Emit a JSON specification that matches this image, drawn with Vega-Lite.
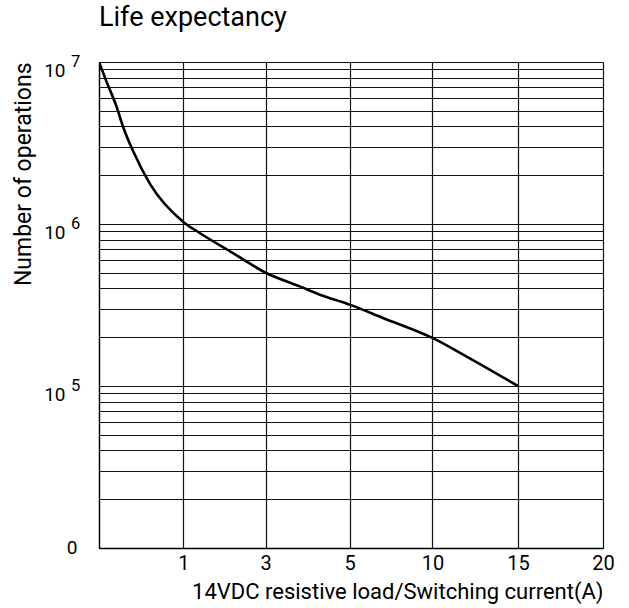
{
  "$schema": "https://vega.github.io/schema/vega-lite/v6.json",
  "width": 504,
  "height": 486,
  "autosize": {"type": "none"},
  "padding": {"left": 99, "top": 62, "right": 26, "bottom": 60},
  "background": "white",
  "title": {"text": "Life expectancy", "anchor": "start", "frame": "group", "offset": 1, "baseline": "alphabetic", "font": "Roboto", "fontSize": 27, "fontWeight": "normal", "color": "#000"},
  "config": {"view": {"stroke": null}, "font": "Roboto"},
  "datasets": {
    "curve": [
      {"current": 0, "operations": 10000000},
      {"current": 0.088, "operations": 7590000},
      {"current": 0.207, "operations": 5320000},
      {"current": 0.286, "operations": 3970000},
      {"current": 0.405, "operations": 2810000},
      {"current": 0.604, "operations": 1770000},
      {"current": 1, "operations": 1030000},
      {"current": 1.396, "operations": 880000},
      {"current": 2.205, "operations": 662000},
      {"current": 3, "operations": 500000},
      {"current": 3.81, "operations": 412000},
      {"current": 4.29, "operations": 366000},
      {"current": 5, "operations": 318000},
      {"current": 7.01, "operations": 263000},
      {"current": 10, "operations": 198000},
      {"current": 12, "operations": 152000},
      {"current": 15, "operations": 100000}
    ],
    "decades": [
      {"operations": 100000, "exponent": "5"},
      {"operations": 1000000, "exponent": "6"},
      {"operations": 10000000, "exponent": "7"}
    ]
  },
  "layer": [
    {
      "data": {"name": "curve"},
      "mark": {"type": "line", "color": "#000", "strokeWidth": 2.6, "interpolate": "monotone", "clip": true},
      "encoding": {
        "x": {
          "field": "current",
          "type": "quantitative",
          "scale": {"domain": [0, 1, 3, 5, 10, 15, 20], "range": [0, 84.4, 166.7, 250.7, 333.4, 419, 504], "nice": false, "zero": false},
          "axis": {
            "title": "14VDC resistive load/Switching current(A)",
            "values": [0, 1, 3, 5, 10, 15, 20],
            "labelExpr": "datum.value == 0 ? '' : datum.label",
            "ticks": false,
            "grid": true,
            "gridColor": "#111",
            "gridWidth": 1.2,
            "gridOpacity": 1,
            "domainColor": "#000",
            "domainWidth": 1.3,
            "labelFont": "Roboto",
            "labelFontSize": 20,
            "labelColor": "#000",
            "labelPadding": 5,
            "labelFlush": false,
            "labelOverlap": false,
            "titleFont": "Roboto",
            "titleFontSize": 22,
            "titleFontWeight": "normal",
            "titleColor": "#000",
            "titleAnchor": "end",
            "titlePadding": 8
          }
        },
        "y": {
          "field": "operations",
          "type": "quantitative",
          "scale": {"type": "log", "domain": [10000, 10000000], "nice": false},
          "axis": {
            "title": "Number of operations",
            "values": [10000, 20000, 30000, 40000, 50000, 60000, 70000, 80000, 90000, 100000, 200000, 300000, 400000, 500000, 600000, 700000, 800000, 900000, 1000000, 2000000, 3000000, 4000000, 5000000, 6000000, 7000000, 8000000, 9000000, 10000000],
            "labelExpr": "datum.value == 10000 ? '0' : (datum.value == 100000 || datum.value == 1000000 || datum.value == 10000000) ? '10' : ''",
            "ticks": false,
            "grid": true,
            "gridColor": "#111",
            "gridWidth": 1.2,
            "gridOpacity": 1,
            "domainColor": "#000",
            "domainWidth": 1.3,
            "labelFont": "Roboto",
            "labelFontSize": 19,
            "labelColor": "#000",
            "labelAlign": "right",
            "labelBaseline": "alphabetic",
            "labelOffset": {"condition": {"test": "datum.value == 10000", "value": 5}, "value": 14},
            "labelPadding": {"condition": {"test": "datum.value == 10000", "value": 22}, "value": 34},
            "labelOverlap": false,
            "labelBound": false,
            "titleFont": "Roboto",
            "titleFontSize": 23,
            "titleFontWeight": "normal",
            "titleColor": "#000",
            "titleAnchor": "end",
            "titlePadding": 8
          }
        }
      }
    },
    {
      "data": {"name": "decades"},
      "mark": {"type": "text", "align": "left", "baseline": "alphabetic", "dx": -28, "dy": 5, "font": "Roboto", "fontSize": 16.5, "color": "#000"},
      "encoding": {
        "x": {"datum": 0, "type": "quantitative"},
        "y": {"field": "operations", "type": "quantitative"},
        "text": {"field": "exponent"}
      }
    }
  ]
}
